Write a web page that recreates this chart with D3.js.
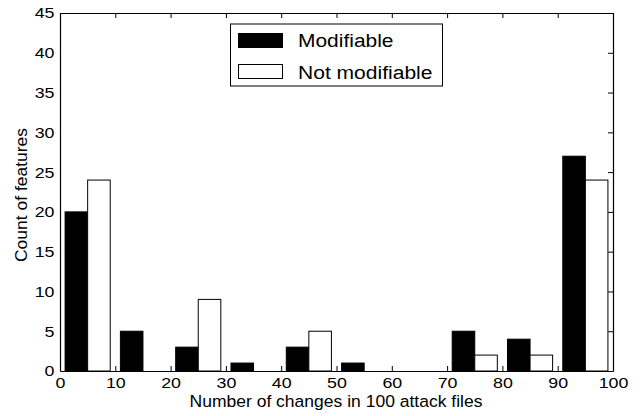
<!DOCTYPE html>
<html><head><meta charset="utf-8">
<script src="https://cdn.jsdelivr.net/npm/d3@7"></script>
<style>body{margin:0;background:#fff}svg text{font-family:"Liberation Sans",Arial,sans-serif}</style>
</head><body><svg id="c" width="643" height="416"></svg>
<script>
const binCenters = [5, 15, 25, 35, 45, 55, 65, 75, 85, 95];
const modifiable = [20, 5, 3, 1, 3, 1, 0, 5, 4, 27];
const notModifiable = [24, 0, 9, 0, 5, 0, 0, 2, 2, 24];
const xTicks = [0, 10, 20, 30, 40, 50, 60, 70, 80, 90, 100];
const yTicks = [0, 5, 10, 15, 20, 25, 30, 35, 40, 45];
const seriesNames = ["Modifiable", "Not modifiable"];

const svg = d3.select("#c");
const L = 60, R = 613, T = 13, B = 371;
const x = d3.scaleLinear().domain([0, 100]).range([L, R]);
const y = d3.scaleLinear().domain([0, 45]).range([B, T]);
const bw = 4.08;
const sx = 1.15;

// bars
svg.append("g").selectAll("rect").data(binCenters).join("rect")
  .attr("x", (c) => x(c - bw)).attr("width", (c) => x(c) - x(c - bw))
  .attr("y", (c, i) => y(modifiable[i])).attr("height", (c, i) => y(0) - y(modifiable[i]))
  .attr("fill", "#000").attr("stroke", "#000").attr("stroke-width", 1);
svg.append("g").selectAll("rect").data(binCenters).join("rect")
  .attr("x", (c) => x(c)).attr("width", (c) => x(c + bw) - x(c))
  .attr("y", (c, i) => y(notModifiable[i])).attr("height", (c, i) => y(0) - y(notModifiable[i]))
  .attr("fill", "#fff").attr("stroke", "#000").attr("stroke-width", 1);

// axes
const fs = "15.5px";
const gBottom = svg.append("g").attr("transform", `translate(0,${B})`)
  .call(d3.axisBottom(x).tickValues(xTicks).tickSizeInner(-5).tickSizeOuter(0).tickPadding(6.3));
const gTop = svg.append("g").attr("transform", `translate(0,${T})`)
  .call(d3.axisTop(x).tickValues(xTicks).tickSizeInner(-5).tickSizeOuter(0).tickFormat(""));
const gLeft = svg.append("g").attr("transform", `translate(${L},0)`)
  .call(d3.axisLeft(y).tickValues(yTicks).tickSizeInner(0).tickSizeOuter(0).tickPadding(5.5));
const gRight = svg.append("g").attr("transform", `translate(${R},0)`)
  .call(d3.axisRight(y).tickValues(yTicks).tickSizeInner(-5).tickSizeOuter(0).tickFormat(""));
[gBottom, gTop, gLeft, gRight].forEach(g => {
  g.selectAll("path.domain").attr("stroke", "#000").attr("stroke-width", 1.2);
  g.selectAll("line").attr("stroke", "#000").attr("stroke-width", 1);
  g.selectAll("text").attr("font-size", fs).attr("fill", "#000")
    .style("font-family", '"Liberation Sans",Arial,sans-serif');
});
gBottom.selectAll(".tick text").attr("transform", `scale(${sx},1)`);
gLeft.selectAll(".tick text").attr("x", -5.5 / sx).attr("transform", `scale(${sx},1)`);

// axis titles
svg.append("text").attr("x", 336).attr("y", 406.5).attr("text-anchor", "middle")
  .attr("font-size", "16.3px").attr("textLength", 293).attr("lengthAdjust", "spacingAndGlyphs")
  .text("Number of changes in 100 attack files");
svg.append("text").attr("transform", `translate(26.5,195) rotate(-90)`)
  .attr("text-anchor", "middle").attr("font-size", "16px")
  .attr("textLength", 134).attr("lengthAdjust", "spacingAndGlyphs").text("Count of features");

// legend
const lg = svg.append("g");
lg.append("rect").attr("x", 230.5).attr("y", 24).attr("width", 212).attr("height", 62)
  .attr("fill", "#fff").attr("stroke", "#000").attr("stroke-width", 1);
const fills = ["#000", "#fff"];
const legLen = [95.5, 134.5];
seriesNames.forEach((n, i) => {
  lg.append("rect").attr("x", 238.5).attr("y", 33.5 + i * 31).attr("width", 44).attr("height", 14)
    .attr("fill", fills[i]).attr("stroke", "#000").attr("stroke-width", 1);
  lg.append("text").attr("x", 298).attr("y", 47 + i * 31.5).attr("font-size", "18px")
    .attr("textLength", legLen[i]).attr("lengthAdjust", "spacingAndGlyphs").text(n);
});
</script></body></html>
